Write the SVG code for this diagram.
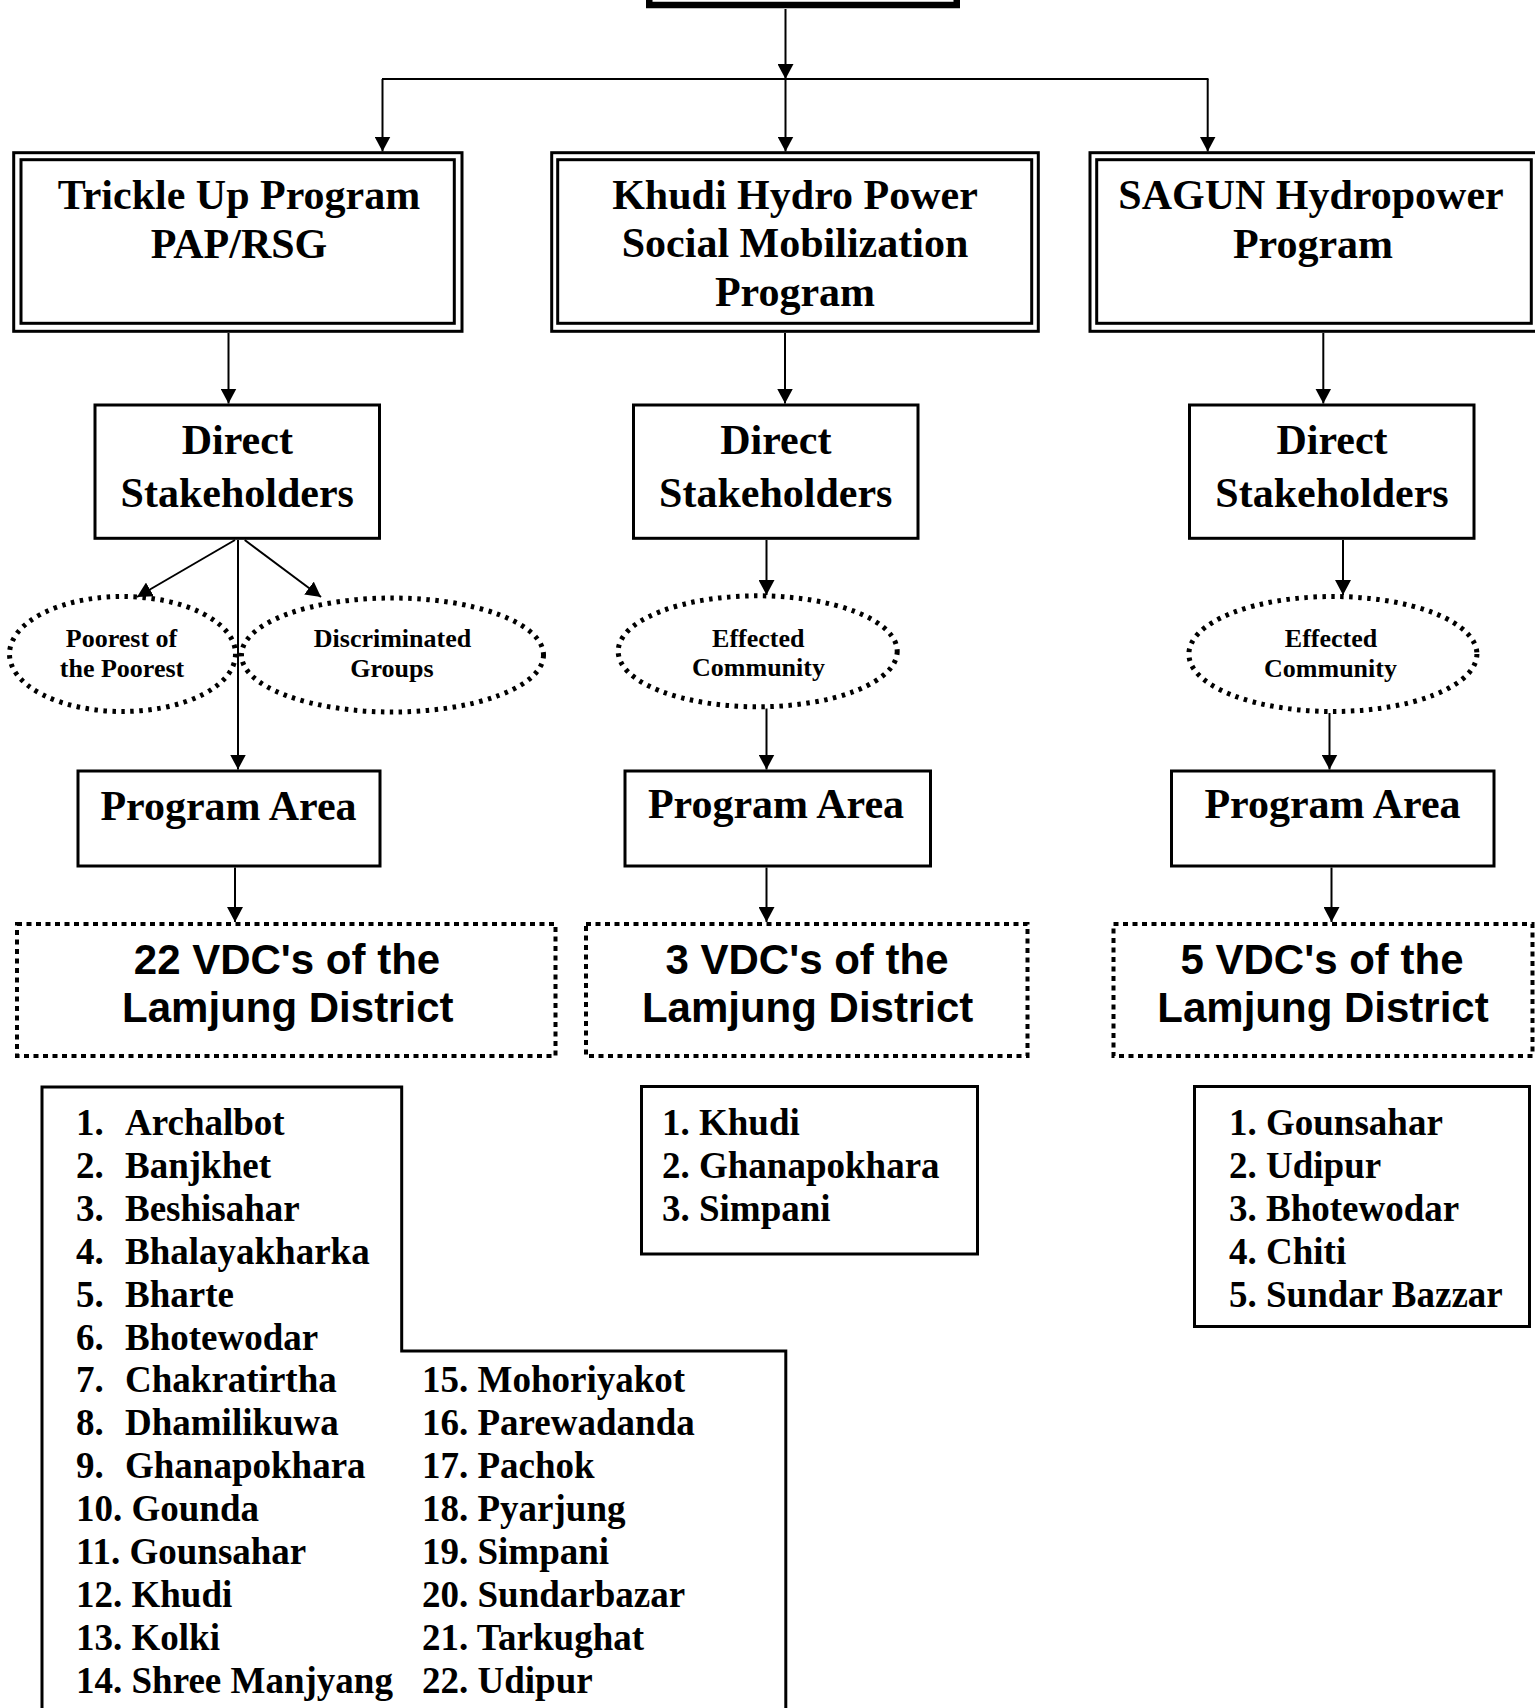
<svg xmlns="http://www.w3.org/2000/svg" width="1535" height="1708" viewBox="0 0 1535 1708">
<style>
.bx{fill:#fff;stroke:#000;stroke-width:3}
.dbl{fill:none;stroke:#000;stroke-width:3}
.ell{fill:none;stroke:#000;stroke-width:5;stroke-dasharray:3.5 5.5}
.dash{fill:#fff;stroke:#000;stroke-width:4;stroke-dasharray:5 4.5}
.ln{fill:none;stroke:#000;stroke-width:2}
.t{font-family:"Liberation Serif","Times New Roman",serif;font-weight:bold;fill:#000}
.big{font-size:42px;text-anchor:middle}
.sm{font-size:26px;text-anchor:middle}
.li{font-size:37px}
.a{font-family:"Liberation Sans",Arial,sans-serif;font-weight:bold;font-size:42px;text-anchor:middle;fill:#000}
</style>
<defs>
<marker id="ar" markerUnits="userSpaceOnUse" markerWidth="16" markerHeight="16" refX="15" refY="8" orient="auto">
<path d="M0,0 L15,8 L0,16 z" fill="#000"/>
</marker>
</defs>
<rect width="1535" height="1708" fill="#fff"/>

<g id="top">
<rect x="649.25" y="-60" width="307.5" height="65" fill="#fff" stroke="#000" stroke-width="6.5"/>
</g>

<g id="connectors">
<line class="ln" x1="785.5" y1="9" x2="785.5" y2="79" marker-end="url(#ar)"/>
<line class="ln" x1="382" y1="79" x2="1208.5" y2="79"/>
<line class="ln" x1="382.5" y1="79" x2="382.5" y2="151.5" marker-end="url(#ar)"/>
<line class="ln" x1="785.5" y1="79" x2="785.5" y2="151.5" marker-end="url(#ar)"/>
<line class="ln" x1="1207.7" y1="79" x2="1207.7" y2="151.5" marker-end="url(#ar)"/>
<line class="ln" x1="228.5" y1="333" x2="228.5" y2="403.5" marker-end="url(#ar)"/>
<line class="ln" x1="785" y1="333" x2="785" y2="403.5" marker-end="url(#ar)"/>
<line class="ln" x1="1323.3" y1="333" x2="1323.3" y2="403.5" marker-end="url(#ar)"/>
<line class="ln" x1="235" y1="540" x2="137" y2="597" marker-end="url(#ar)"/>
<line class="ln" x1="244.7" y1="540" x2="321" y2="597" marker-end="url(#ar)"/>
<line class="ln" x1="238" y1="540" x2="238" y2="769.5" marker-end="url(#ar)"/>
<line class="ln" x1="766.5" y1="540" x2="766.5" y2="595" marker-end="url(#ar)"/>
<line class="ln" x1="1343" y1="540" x2="1343" y2="595" marker-end="url(#ar)"/>
<line class="ln" x1="766.5" y1="708.5" x2="766.5" y2="769.5" marker-end="url(#ar)"/>
<line class="ln" x1="1329.5" y1="713" x2="1329.5" y2="769.5" marker-end="url(#ar)"/>
<line class="ln" x1="235" y1="867.5" x2="235" y2="922" marker-end="url(#ar)"/>
<line class="ln" x1="766.5" y1="867.5" x2="766.5" y2="922" marker-end="url(#ar)"/>
<line class="ln" x1="1331.5" y1="867.5" x2="1331.5" y2="922" marker-end="url(#ar)"/>
</g>

<g id="prog-trickle">
<rect x="13.7" y="152.7" width="448.3" height="178.6" fill="#fff" stroke="#000" stroke-width="3"/>
<rect class="dbl" x="21" y="159.7" width="433.3" height="163.6"/>
<text class="t big" x="239" y="209">Trickle Up Program</text>
<text class="t big" x="239" y="258">PAP/RSG</text>
</g>

<g id="prog-khudi">
<rect x="551.7" y="152.7" width="486.6" height="178.6" fill="#fff" stroke="#000" stroke-width="3"/>
<rect class="dbl" x="557.7" y="159.7" width="474" height="163.6"/>
<text class="t big" x="795" y="209">Khudi Hydro Power</text>
<text class="t big" x="795" y="257">Social Mobilization</text>
<text class="t big" x="795" y="306">Program</text>
</g>

<g id="prog-sagun">
<rect x="1090" y="152.7" width="450" height="178.6" fill="#fff" stroke="#000" stroke-width="3"/>
<rect class="dbl" x="1096.7" y="159.7" width="434.6" height="163.6"/>
<text class="t big" x="1311" y="209">SAGUN Hydropower</text>
<text class="t big" x="1313" y="258">Program</text>
</g>

<g id="ds-left">
<rect class="bx" x="95" y="405" width="284.5" height="133.3"/>
<text class="t big" x="237.3" y="454">Direct</text>
<text class="t big" x="237.3" y="507">Stakeholders</text>
</g>
<g id="ds-mid">
<rect class="bx" x="633.5" y="405" width="284.5" height="133.3"/>
<text class="t big" x="775.8" y="454">Direct</text>
<text class="t big" x="775.8" y="507">Stakeholders</text>
</g>
<g id="ds-right">
<rect class="bx" x="1189.5" y="405" width="284.5" height="133.3"/>
<text class="t big" x="1332" y="454">Direct</text>
<text class="t big" x="1332" y="507">Stakeholders</text>
</g>

<g id="el-poorest">
<ellipse class="ell" cx="122.5" cy="654" rx="113" ry="57.5"/>
<text class="t sm" x="121.5" y="647">Poorest of</text>
<text class="t sm" x="122" y="677">the Poorest</text>
</g>
<g id="el-discriminated">
<ellipse class="ell" cx="392.5" cy="655" rx="151" ry="57"/>
<text class="t sm" x="392.5" y="647">Discriminated</text>
<text class="t sm" x="392" y="677">Groups</text>
</g>
<g id="el-effected-mid">
<ellipse class="ell" cx="757.7" cy="651.3" rx="139.5" ry="55.5"/>
<text class="t sm" x="758.3" y="647">Effected</text>
<text class="t sm" x="758.5" y="676">Community</text>
</g>
<g id="el-effected-right">
<ellipse class="ell" cx="1332.9" cy="654" rx="144" ry="57.5"/>
<text class="t sm" x="1331" y="647">Effected</text>
<text class="t sm" x="1330.5" y="677">Community</text>
</g>

<g id="pa-left">
<rect class="bx" x="78" y="771" width="302" height="95"/>
<text class="t big" x="228.5" y="820">Program Area</text>
</g>
<g id="pa-mid">
<rect class="bx" x="625" y="771" width="305.5" height="95"/>
<text class="t big" x="776" y="818.3">Program Area</text>
</g>
<g id="pa-right">
<rect class="bx" x="1171.5" y="771" width="322.5" height="95"/>
<text class="t big" x="1332.5" y="818.3">Program Area</text>
</g>

<g id="vdc-left">
<rect class="dash" x="17" y="924" width="538.5" height="132"/>
<text class="a" x="287" y="973.5">22 VDC's of the</text>
<text class="a" x="287.8" y="1021.7">Lamjung District</text>
</g>
<g id="vdc-mid">
<rect class="dash" x="586" y="924" width="441.5" height="132"/>
<text class="a" x="807" y="973.5">3 VDC's of the</text>
<text class="a" x="807.6" y="1021.7">Lamjung District</text>
</g>
<g id="vdc-right">
<rect class="dash" x="1113.5" y="924" width="419" height="132"/>
<text class="a" x="1322" y="973.5">5 VDC's of the</text>
<text class="a" x="1323" y="1021.7">Lamjung District</text>
</g>

<g id="list-left">
<path d="M42,1712 V1087 H401.7 V1351 H785.8 V1712" fill="#fff" stroke="#000" stroke-width="3"/>
<text class="t li" x="76" y="1135">1.<tspan x="125">Archalbot</tspan></text>
<text class="t li" x="76" y="1177.9">2.<tspan x="125">Banjkhet</tspan></text>
<text class="t li" x="76" y="1220.8">3.<tspan x="125">Beshisahar</tspan></text>
<text class="t li" x="76" y="1263.7">4.<tspan x="125">Bhalayakharka</tspan></text>
<text class="t li" x="76" y="1306.6">5.<tspan x="125">Bharte</tspan></text>
<text class="t li" x="76" y="1349.5">6.<tspan x="125">Bhotewodar</tspan></text>
<text class="t li" x="76" y="1392.4">7.<tspan x="125">Chakratirtha</tspan></text>
<text class="t li" x="76" y="1435.3">8.<tspan x="125">Dhamilikuwa</tspan></text>
<text class="t li" x="76" y="1478.2">9.<tspan x="125">Ghanapokhara</tspan></text>
<text class="t li" x="76" y="1521.1">10. Gounda</text>
<text class="t li" x="76" y="1564">11. Gounsahar</text>
<text class="t li" x="76" y="1606.9">12. Khudi</text>
<text class="t li" x="76" y="1649.8">13. Kolki</text>
<text class="t li" x="76" y="1692.7">14. Shree Manjyang</text>
<text class="t li" x="422" y="1392.4">15. Mohoriyakot</text>
<text class="t li" x="422" y="1435.3">16. Parewadanda</text>
<text class="t li" x="422" y="1478.2">17. Pachok</text>
<text class="t li" x="422" y="1521.1">18. Pyarjung</text>
<text class="t li" x="422" y="1564">19. Simpani</text>
<text class="t li" x="422" y="1606.9">20. Sundarbazar</text>
<text class="t li" x="422" y="1649.8">21. Tarkughat</text>
<text class="t li" x="422" y="1692.7">22. Udipur</text>
</g>

<g id="list-mid">
<rect class="bx" x="641.5" y="1086.5" width="336" height="167.5"/>
<text class="t li" x="662" y="1135">1. Khudi</text>
<text class="t li" x="662" y="1178">2. Ghanapokhara</text>
<text class="t li" x="662" y="1221">3. Simpani</text>
</g>

<g id="list-right">
<rect class="bx" x="1194.5" y="1086.5" width="335" height="240"/>
<text class="t li" x="1229" y="1135">1. Gounsahar</text>
<text class="t li" x="1229" y="1178">2. Udipur</text>
<text class="t li" x="1229" y="1221">3. Bhotewodar</text>
<text class="t li" x="1229" y="1264">4. Chiti</text>
<text class="t li" x="1229" y="1307">5. Sundar Bazzar</text>
</g>
</svg>
